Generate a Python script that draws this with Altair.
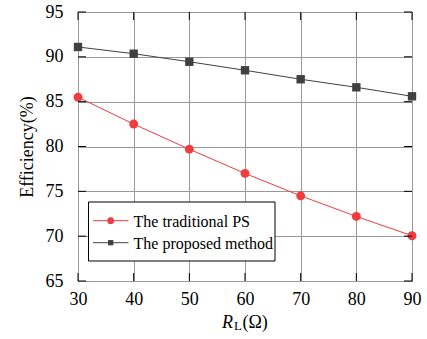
import altair as alt
import pandas as pd

# ---- data ----
load_r = [30, 40, 50, 60, 70, 80, 90]
eff_traditional = [85.5, 82.5, 79.7, 77.0, 74.5, 72.2, 70.05]
eff_proposed = [91.1, 90.35, 89.45, 88.5, 87.5, 86.6, 85.6]
series_names = ["The traditional PS", "The proposed method"]
series_colors = ["#F03C3F", "#404040"]
series_shapes = ["circle", "square"]
x_ticks = [30, 40, 50, 60, 70, 80, 90]
y_ticks = [65, 70, 75, 80, 85, 90, 95]

W, H = 334, 269
FONT = "Liberation Serif"

df = pd.DataFrame({
    "R": load_r * 2,
    "eff": eff_traditional + eff_proposed,
    "series": [series_names[0]] * len(load_r) + [series_names[1]] * len(load_r),
})

xs = alt.Scale(domain=[30, 90], nice=False, zero=False)
ys = alt.Scale(domain=[65, 95], nice=False, zero=False)
cs = alt.Scale(domain=series_names, range=series_colors)
ss = alt.Scale(domain=series_names, range=series_shapes)
sz = alt.Scale(domain=series_names, range=[80, 70])

x_axis = alt.Axis(values=x_ticks, grid=True, gridColor="#999999", gridWidth=1,
                  ticks=False, domain=False, labelFont=FONT, labelFontSize=18,
                  labelColor="black", labelPadding=9, labelFlush=False,
                  labelOverlap=False, title=None)
y_axis = alt.Axis(values=y_ticks, grid=True, gridColor="#999999", gridWidth=1,
                  ticks=False, domain=False, labelFont=FONT, labelFontSize=18,
                  labelColor="black", labelPadding=15, labelFlush=False,
                  labelOverlap=False,
                  title="Efficiency(%)", titleFont=FONT, titleFontSize=18,
                  titleFontWeight="normal", titleColor="black",
                  titleAngle=270, titleX=-46, titleY=H / 2,
                  titleAlign="center", titleBaseline="alphabetic")

lines = alt.Chart(df).mark_line(strokeWidth=1).encode(
    x=alt.X("R:Q", scale=xs, axis=x_axis),
    y=alt.Y("eff:Q", scale=ys, axis=y_axis),
    color=alt.Color("series:N", scale=cs, legend=None),
    detail="series:N",
)
points = alt.Chart(df).mark_point(filled=True, opacity=1).encode(
    x=alt.X("R:Q", scale=xs),
    y=alt.Y("eff:Q", scale=ys),
    color=alt.Color("series:N", scale=cs, legend=None),
    shape=alt.Shape("series:N", scale=ss, legend=None),
    size=alt.Size("series:N", scale=sz, legend=None),
)

# inward ticks on all four sides
xt = pd.DataFrame({"v": x_ticks})
yt = pd.DataFrame({"v": y_ticks})
tick_style = dict(color="black", strokeWidth=1)
t_bottom = alt.Chart(xt).mark_rule(**tick_style).encode(
    x=alt.X("v:Q", scale=xs), y=alt.value(H - 8), y2=alt.value(H))
t_top = alt.Chart(xt).mark_rule(**tick_style).encode(
    x=alt.X("v:Q", scale=xs), y=alt.value(0), y2=alt.value(8))
t_left = alt.Chart(yt).mark_rule(**tick_style).encode(
    y=alt.Y("v:Q", scale=ys), x=alt.value(0), x2=alt.value(8))
t_right = alt.Chart(yt).mark_rule(**tick_style).encode(
    y=alt.Y("v:Q", scale=ys), x=alt.value(W - 8), x2=alt.value(W))

# x-axis title R_L(Ω)
one = pd.DataFrame({"a": [0]})
tx_R = alt.Chart(pd.DataFrame({"t": ["R"]})).mark_text(
    font=FONT, fontSize=18, fontStyle="italic", align="left", baseline="alphabetic", color="black"
).encode(text="t:N", x=alt.value(144), y=alt.value(316))
tx_L = alt.Chart(pd.DataFrame({"t": ["L"]})).mark_text(
    font=FONT, fontSize=13, align="left", baseline="alphabetic", color="black"
).encode(text="t:N", x=alt.value(156), y=alt.value(318))
tx_O = alt.Chart(pd.DataFrame({"t": ["(Ω)"]})).mark_text(
    font=FONT, fontSize=18, align="left", baseline="alphabetic", color="black"
).encode(text="t:N", x=alt.value(164.5), y=alt.value(316))

# manual legend
leg_box = alt.Chart(one).mark_rect(fill="white", stroke="black", strokeWidth=1).encode(
    x=alt.value(10.5), x2=alt.value(197), y=alt.value(190), y2=alt.value(249))
leg_layers = [leg_box]
row_y = [208.7, 230.7]
leg_sizes = [45, 28]
for name, col, shp, yy, s in zip(series_names, series_colors, series_shapes, row_y, leg_sizes):
    d = pd.DataFrame({"name": [name]})
    leg_layers.append(alt.Chart(d).mark_rule(color=col, strokeWidth=1).encode(
        x=alt.value(15), x2=alt.value(50.5), y=alt.value(yy)))
    leg_layers.append(alt.Chart(d).mark_point(filled=True, opacity=1, color=col, shape=shp, size=s).encode(
        x=alt.value(32.7), y=alt.value(yy)))
    leg_layers.append(alt.Chart(d).mark_text(
        font=FONT, fontSize=16, align="left", baseline="middle", color="black", dy=1
    ).encode(text="name:N", x=alt.value(55.5), y=alt.value(yy)))

chart = alt.layer(
    lines, points, t_bottom, t_top, t_left, t_right, tx_R, tx_L, tx_O, *leg_layers
).properties(
    width=W, height=H,
    autosize=alt.AutoSizeParams(type="none"),
    padding={"left": 78, "top": 12, "right": 15, "bottom": 58},
    background="white",
).configure_view(stroke="black", strokeWidth=1)

chart.save("out.html", embed_options={"renderer": "svg", "actions": False})
